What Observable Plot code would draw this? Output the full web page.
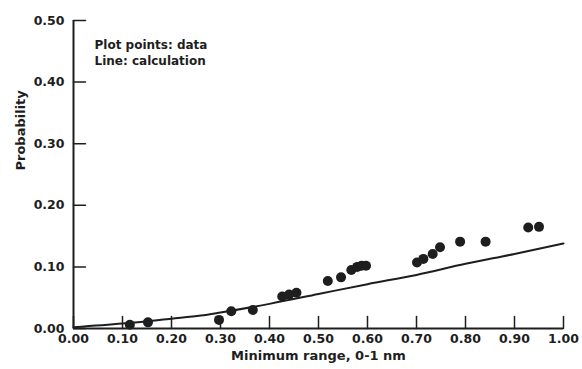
<!DOCTYPE html>
<html><head><meta charset="utf-8">
<script src="https://cdn.jsdelivr.net/npm/d3@7"></script>
<script src="https://cdn.jsdelivr.net/npm/@observablehq/plot@0.6"></script>
<style>body{margin:0;background:#fff;} svg{font-family:"DejaVu Sans",sans-serif;}</style>
</head><body><div id="chart"></div>
<script>
const dataX = [0.115,0.152,0.297,0.322,0.366,0.426,0.440,0.455,0.519,0.546,0.567,0.579,0.588,0.597,0.701,0.714,0.733,0.748,0.789,0.841,0.928,0.950];
const dataY = [0.006,0.010,0.014,0.028,0.030,0.052,0.055,0.058,0.077,0.083,0.095,0.100,0.102,0.102,0.107,0.113,0.121,0.132,0.141,0.141,0.164,0.165];
const lineX = [0,0.1,0.2,0.26,0.3,0.4,0.5,0.6,0.7,0.8,0.9,1.0];
const lineY = [0.002,0.008,0.016,0.021,0.026,0.040,0.056,0.072,0.087,0.105,0.121,0.138];
const xTicks = [0,0.1,0.2,0.3,0.4,0.5,0.6,0.7,0.8,0.9,1.0];
const yTicks = [0,0.1,0.2,0.3,0.4,0.5];
const legendLines = ["Plot points: data","Line: calculation"];
const xLabel = "Minimum range, 0-1 nm";
const yLabel = "Probability";

const points = dataX.map((x,i)=>({x, y: dataY[i]}));
const curve = lineX.map((x,i)=>({x, y: lineY[i]}));
const ink = "#1e1e1e";
const font = '"DejaVu Sans",sans-serif';
const stick = {draw(context, l) { context.moveTo(0, 0); context.lineTo(0, -l); }};

const chart = Plot.plot({
  width: 582, height: 369,
  marginLeft: 73, marginRight: 19, marginTop: 20, marginBottom: 41,
  x: {domain:[0,1]},
  y: {domain:[0,0.5]},
  style: {fontFamily: font, fontWeight:"bold", fontSize:"12.5px", color:ink, background:"#fff"},
  marks: [
    Plot.ruleX([0], {stroke:ink, strokeWidth:2}),
    Plot.ruleY([0], {stroke:ink, strokeWidth:2}),
    Plot.vectorX(xTicks, {x: d=>d, frameAnchor:"bottom", length: 12, anchor:"start", shape: stick, stroke: ink, strokeWidth: 1.5}),
    Plot.vectorY(yTicks, {y: d=>d, frameAnchor:"left", length: 12, rotate: 90, anchor:"start", shape: stick, stroke: ink, strokeWidth: 1.5}),
    Plot.axisX({ticks: xTicks, tickFormat: d=>d.toFixed(2), tickSize: 0, tickPadding: 6, label: null, fontSize: 12.5, fontWeight:"bold"}),
    Plot.axisY({ticks: yTicks, tickFormat: d=>d.toFixed(2), tickSize: 0, tickPadding: 9, label: null, fontSize: 12.5, fontWeight:"bold"}),
    Plot.line(curve, {x:"x", y:"y", stroke:ink, strokeWidth:2, curve:"monotone-x"}),
    Plot.dot(points, {x:"x", y:"y", r:5, fill:ink, stroke:"none"}),
    Plot.text([legendLines.join("\n")], {frameAnchor:"top-left", dx: 21, dy: 17, fontSize: 12, fontWeight:"bold", textAnchor:"start", lineHeight: 1.35}),
    Plot.text([xLabel], {frameAnchor:"bottom", dy: 31, fontSize: 13, fontWeight:"bold"}),
    Plot.text([yLabel], {frameAnchor:"left", dx: -53, dy: -4, rotate: -90, fontSize: 13, fontWeight:"bold"}),
  ]
});
document.getElementById("chart").appendChild(chart);
</script>
</body></html>
